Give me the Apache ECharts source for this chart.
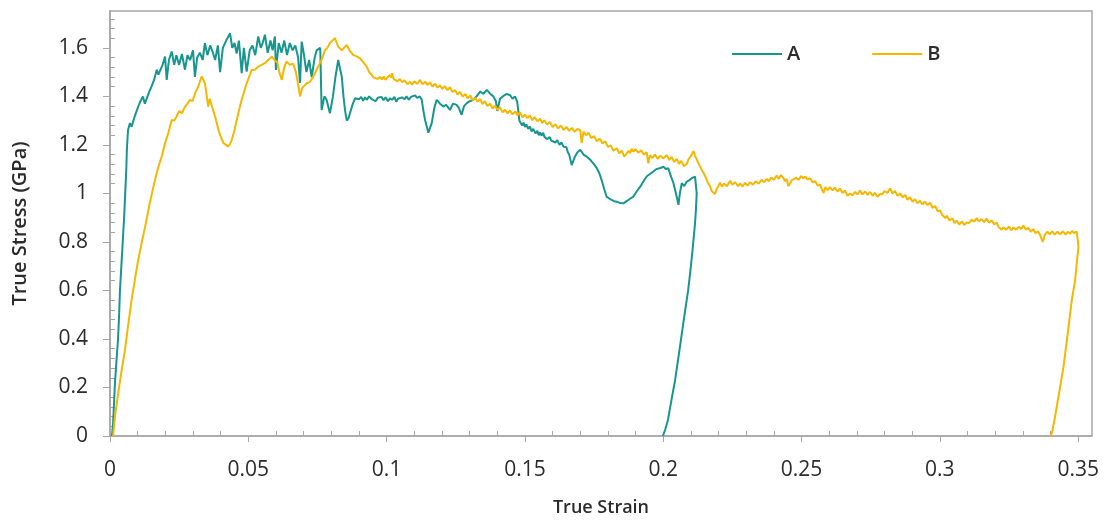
<!DOCTYPE html>
<html>
<head>
<meta charset="utf-8">
<script src="https://cdn.jsdelivr.net/npm/echarts@6/dist/echarts.min.js"></script>
<style>html,body{margin:0;padding:0;background:#fff}#c{width:1107px;height:524px}</style>
</head>
<body>
<div id="c"></div>
<script>
// ---- data ----
const seriesNames = ['A', 'B'];
const xTicks = [0, 0.05, 0.1, 0.15, 0.2, 0.25, 0.3, 0.35];
const yTicks = [0, 0.2, 0.4, 0.6, 0.8, 1, 1.2, 1.4, 1.6];

const aStrain = [0.0007,0.0011,0.0018,0.0024,0.0029,0.0033,0.0036,0.0041,0.0046,0.0051,0.0055,0.0059,0.0061,0.0065,0.0072,0.0078,0.0090,0.0102,0.0110,0.0119,0.0126,0.0133,0.0142,0.0150,0.0160,0.0169,0.0175,0.0180,0.0190,0.0199,0.0205,0.0213,0.0223,0.0232,0.0240,0.0250,0.0260,0.0271,0.0280,0.0290,0.0300,0.0307,0.0315,0.0325,0.0335,0.0343,0.0352,0.0362,0.0372,0.0380,0.0390,0.0398,0.0408,0.0420,0.0434,0.0442,0.0450,0.0458,0.0466,0.0476,0.0484,0.0494,0.0505,0.0515,0.0525,0.0536,0.0545,0.0552,0.0560,0.0570,0.0580,0.0588,0.0596,0.0600,0.0610,0.0620,0.0630,0.0640,0.0650,0.0660,0.0670,0.0680,0.0687,0.0693,0.0700,0.0710,0.0720,0.0729,0.0740,0.0747,0.0760,0.0765,0.0775,0.0783,0.0795,0.0806,0.0815,0.0825,0.0832,0.0838,0.0844,0.0850,0.0856,0.0862,0.0868,0.0878,
  0.0886,0.0893,0.0900,0.0908,0.0915,0.0922,0.0928,0.0937,0.0945,0.0952,0.0960,0.0968,0.0975,0.0982,0.0988,0.0996,0.1005,0.1012,0.1020,0.1028,0.1035,0.1041,0.1048,0.1056,0.1065,0.1072,0.1080,0.1088,0.1095,0.1103,0.1110,0.1120,0.1127,
  0.1133,0.1139,0.1151,0.1157,0.1163,0.1172,0.1181,0.1193,0.1205,0.1215,0.1229,0.1240,0.1253,0.1262,0.1271,0.1280,0.1290,0.1300,0.1313,0.1325,0.1338,0.1350,0.1362,0.1375,0.1386,0.1395,0.1400,0.1410,0.1420,0.1433,0.1446,0.1455,0.1464,0.1472,0.1476,0.1480,
  0.1484,0.1490,0.1495,0.1500,0.1505,0.1512,0.1518,0.1524,0.1530,0.1538,0.1545,0.1550,0.1555,0.1560,0.1566,0.1571,0.1575,0.1580,0.1584,0.1590,0.1595,0.1602,0.1610,0.1617,0.1625,0.1632,0.1640,0.1645,0.1650,0.1655,0.1660,
  0.1669,0.1680,0.1690,0.1700,0.1712,0.1723,0.1735,0.1750,0.1760,0.1770,0.1777,0.1786,0.1795,0.1810,0.1822,0.1832,0.1845,0.1856,0.1870,0.1880,0.1892,0.1905,0.1918,0.1928,0.1940,0.1952,0.1964,0.1975,0.1990,0.2001,0.2010,0.2018,0.2028,0.2037,0.2046,0.2055,0.2060,0.2067,0.2076,0.2085,0.2095,0.2103,0.2110,0.2115,0.2121,0.2118,0.2115,0.2106,0.2098,0.2090,0.2077,0.2064,0.2053,0.2043,0.2030,0.2017,0.2008,0.1999];
const aStress = [0,0.05,0.22,0.32,0.40,0.50,0.60,0.70,0.80,0.90,1.00,1.10,1.18,1.26,1.29,1.275,1.32,1.358,1.38,1.40,1.37,1.365,1.42,1.44,1.47,1.51,1.49,1.497,1.53,1.564,1.468,1.55,1.585,1.53,1.57,1.53,1.575,1.51,1.57,1.55,1.59,1.48,1.56,1.58,1.55,1.62,1.57,1.61,1.58,1.55,1.61,1.50,1.60,1.63,1.66,1.60,1.62,1.577,1.63,1.496,1.60,1.502,1.59,1.61,1.57,1.647,1.60,1.62,1.654,1.58,1.63,1.59,1.647,1.509,1.62,1.58,1.63,1.57,1.62,1.59,1.61,1.56,1.456,1.626,1.58,1.50,1.55,1.48,1.56,1.59,1.60,1.344,1.40,1.386,1.33,1.40,1.48,1.55,1.557,1.48,1.40,1.34,1.30,1.31,1.317,1.37,
  1.392,1.400,1.388,1.398,1.382,1.396,1.386,1.400,1.390,1.398,1.380,1.394,1.386,1.398,1.384,1.396,1.380,1.392,1.386,1.398,1.378,1.390,1.382,1.396,1.388,1.400,1.386,1.398,1.392,1.404,1.394,1.400,1.386,
  1.34,1.303,1.25,1.27,1.29,1.35,1.386,1.37,1.358,1.365,1.344,1.37,1.365,1.35,1.324,1.36,1.372,1.38,1.386,1.40,1.42,1.41,1.427,1.41,1.40,1.38,1.34,1.39,1.40,1.41,1.406,1.39,1.40,1.38,1.372,1.30,
  1.303,1.280,1.292,1.274,1.284,1.266,1.276,1.256,1.266,1.248,1.258,1.240,1.252,1.238,1.250,1.232,1.240,1.224,1.220,1.232,1.218,1.226,1.210,1.220,1.200,1.210,1.192,1.200,1.190,1.170,1.160,
  1.117,1.15,1.17,1.18,1.16,1.152,1.14,1.12,1.104,1.08,1.056,1.02,0.987,0.975,0.968,0.966,0.96,0.959,0.97,0.978,0.987,1.01,1.03,1.049,1.07,1.08,1.09,1.10,1.105,1.11,1.10,1.104,1.07,1.042,1.00,0.953,1.00,1.042,1.03,1.049,1.055,1.063,1.06,1.069,1.00,0.93,0.878,0.767,0.68,0.60,0.50,0.396,0.31,0.231,0.15,0.066,0.03,0];

const bStrain = [0.0011,0.0018,0.0030,0.0042,0.0054,0.0066,0.0078,0.0090,0.0102,0.0115,0.0127,0.0142,0.0157,0.0168,0.0175,0.0187,0.0199,0.0211,0.0223,0.0232,0.0241,0.0250,0.0260,0.0271,0.0280,0.0289,0.0298,0.0310,0.0319,0.0331,0.0337,0.0343,0.0350,0.0355,0.0361,0.0368,0.0380,0.0386,0.0392,0.0400,0.0410,0.0420,0.0428,0.0434,0.0440,0.0450,0.0458,0.0468,0.0476,0.0485,0.0494,0.0503,0.0512,0.0524,0.0536,0.0548,0.0560,0.0572,0.0585,0.0595,0.0605,0.0612,0.0621,0.0630,0.0638,0.0650,0.0662,0.0672,0.0680,0.0687,0.0695,0.0711,0.0723,0.0735,0.0747,0.0759,0.0768,0.0777,0.0786,0.0795,0.0804,0.0813,0.0820,0.0825,0.0838,0.0846,0.0856,0.0866,0.0879,0.0892,0.0904,0.0916,0.0928,0.0937,
  0.0946,0.0953,0.0960,0.0968,0.0976,0.0983,0.0990,0.0996,0.1002,0.1007,0.1012,0.1016,0.1020,0.1025,0.1030,0.1039,0.1048,0.1056,0.1065,0.1075,0.1085,0.1092,0.1100,0.1110,0.1121,0.1130,0.1140,0.1148,0.1157,0.1166,0.1175,0.1184,0.1193,0.1201,0.1210,0.1220,0.1229,0.1238,0.1248,0.1256,0.1265,0.1275,0.1285,0.1293,0.1302,0.1311,0.1320,0.1329,0.1338,0.1346,0.1355,0.1364,0.1374,0.1383,0.1392,0.1401,0.1410,0.1419,0.1428,0.1437,0.1446,0.1455,0.1465,0.1473,0.1482,0.1491,0.1500,0.1509,0.1518,0.1526,0.1535,0.1545,0.1555,0.1562,0.1570,0.1580,0.1590,0.1600,0.1610,0.1620,0.1630,0.1640,0.1650,0.1660,0.1670,0.1680,0.1690,0.1700,0.1705,0.1712,0.1721,0.1730,0.1740,0.1750,0.1760,0.1771,0.1780,0.1790,0.1800,0.1810,0.1820,0.1832,0.1841,0.1850,0.1859,0.1868,0.1875,0.1880,0.1886,0.1892,0.1900,0.1910,0.1920,0.1930,0.1940,0.1946,0.1952,0.1960,0.1970,0.1980,0.1990,0.2000,0.2013,0.2022,0.2030,0.2040,0.2049,0.2057,0.2065,0.2075,0.2085,0.2091,0.2097,0.2103,0.2109,0.2115,0.2121,0.2127,0.2133,0.2139,0.2145,0.2151,0.2157,0.2163,0.2169,0.2175,0.2181,0.2187,0.2193,0.2199,0.2205,0.2212,0.2220,0.2230,0.2242,0.2250,0.2260,0.2270,0.2278,0.2287,0.2295,0.2305,0.2314,0.2324,0.2335,0.2345,0.2355,0.2365,0.2374,0.2382,0.2390,0.2400,0.2410,0.2418,0.2425,0.2434,0.2440,0.2446,0.2452,0.2458,0.2464,0.2470,0.2480,0.2490,0.2498,0.2506,0.2514,0.2520,0.2531,0.2540,0.2550,0.2558,0.2567,0.2573,0.2580,0.2586,0.2595,0.2603,0.2612,0.2620,0.2630,0.2639,0.2648,0.2657,0.2666,0.2675,0.2684,0.2693,0.2702,0.2711,0.2720,0.2730,0.2739,0.2748,0.2757,0.2765,0.2775,0.2784,0.2792,0.2800,0.2810,0.2820,0.2829,0.2838,0.2847,0.2856,0.2866,0.2875,0.2883,0.2892,0.2901,0.2910,0.2919,0.2928,0.2937,0.2945,0.2955,0.2965,0.2974,0.2983,0.2992,0.3001,0.3008,0.3015,0.3020,0.3025,0.3035,0.3045,0.3053,0.3061,0.3070,0.3080,0.3088,0.3097,0.3106,0.3115,0.3124,0.3133,0.3141,0.3150,0.3160,0.3169,0.3178,0.3188,0.3196,0.3205,0.3212,0.3218,0.3224,0.3230,0.3240,0.3250,0.3258,0.3266,0.3275,0.3285,0.3294,0.3302,0.3311,0.3320,0.3329,0.3338,0.3346,0.3355,0.3362,0.3368,0.3372,
  0.3380,0.3389,0.3398,0.3406,0.3415,0.3425,0.3435,0.3445,0.3455,0.3463,0.3471,0.3478,0.3485,0.3495,0.3501,0.3496,0.3489,0.3477,0.3462,0.3447,0.3430,0.3415,0.3405,0.3398];
const bStress = [0,0.08,0.18,0.27,0.355,0.46,0.56,0.645,0.726,0.80,0.863,0.95,1.028,1.08,1.11,1.152,1.207,1.25,1.303,1.30,1.317,1.34,1.33,1.358,1.37,1.386,1.38,1.42,1.44,1.482,1.47,1.454,1.40,1.358,1.39,1.36,1.317,1.29,1.262,1.235,1.207,1.20,1.193,1.205,1.22,1.26,1.303,1.35,1.386,1.42,1.454,1.48,1.509,1.51,1.523,1.53,1.537,1.55,1.564,1.55,1.54,1.50,1.468,1.52,1.544,1.53,1.535,1.50,1.45,1.40,1.435,1.454,1.46,1.482,1.51,1.537,1.56,1.59,1.60,1.62,1.63,1.64,1.62,1.605,1.59,1.60,1.612,1.59,1.571,1.565,1.557,1.54,1.523,1.50,
  1.489,1.478,1.485,1.472,1.480,1.470,1.482,1.468,1.478,1.470,1.488,1.478,1.495,1.472,1.480,1.462,1.472,1.458,1.466,1.450,1.460,1.448,1.462,1.452,1.468,1.450,1.460,1.447,1.458,1.440,1.452,1.436,1.446,1.430,1.442,1.426,1.438,1.418,1.426,1.408,1.418,1.400,1.410,1.392,1.404,1.384,1.394,1.378,1.390,1.368,1.380,1.360,1.370,1.350,1.362,1.344,1.356,1.334,1.345,1.330,1.342,1.326,1.338,1.322,1.335,1.314,1.325,1.310,1.322,1.302,1.315,1.298,1.308,1.290,1.302,1.284,1.295,1.274,1.285,1.268,1.280,1.262,1.274,1.258,1.270,1.254,1.266,1.260,1.207,1.255,1.240,1.250,1.228,1.236,1.215,1.226,1.206,1.215,1.192,1.198,1.176,1.186,1.165,1.176,1.152,1.164,1.176,1.166,1.184,1.172,1.182,1.168,1.178,1.160,1.170,1.124,1.158,1.146,1.160,1.142,1.156,1.144,1.158,1.138,1.150,1.130,1.142,1.122,1.134,1.112,1.122,1.140,1.132,1.160,1.175,1.155,1.140,1.125,1.118,1.098,1.086,1.072,1.065,1.040,1.030,1.010,1.008,0.998,1.018,1.030,1.044,1.028,1.040,1.030,1.052,1.036,1.046,1.030,1.040,1.028,1.044,1.032,1.046,1.036,1.050,1.040,1.056,1.046,1.060,1.050,1.066,1.056,1.074,1.060,1.076,1.064,1.050,1.060,1.030,1.040,1.054,1.046,1.064,1.056,1.072,1.062,1.070,1.058,1.062,1.046,1.050,1.032,1.036,1.018,1.002,1.026,1.014,1.026,1.012,1.024,1.008,1.020,1.002,1.012,0.990,1.000,0.992,1.006,0.996,1.012,0.996,1.008,0.994,1.006,0.990,1.002,0.986,0.998,0.996,1.010,1.002,1.020,1.000,1.010,0.990,1.000,0.984,0.994,0.974,0.984,0.966,0.976,0.960,0.970,0.954,0.966,0.952,0.962,0.940,0.948,0.926,0.930,0.912,0.918,0.898,0.908,0.888,0.898,0.878,0.888,0.872,0.884,0.870,0.880,0.878,0.892,0.884,0.898,0.884,0.894,0.882,0.896,0.880,0.888,0.872,0.880,0.862,0.870,0.850,0.860,0.850,0.864,0.848,0.860,0.850,0.862,0.854,0.868,0.850,0.858,0.842,0.852,0.836,0.844,0.830,0.832,0.800,
  0.830,0.842,0.832,0.844,0.830,0.842,0.832,0.844,0.830,0.842,0.834,0.846,0.836,0.843,0.78,0.726,0.643,0.56,0.42,0.286,0.17,0.07,0.012,0];

// ---- build ----
const zip = (xs, ys) => xs.map((x, i) => [x, ys[i]]);
const xMinor = []; for (let i = 1; i <= 35; i++) if (i % 5) xMinor.push(i / 100);
const yMinor = []; for (let i = 1; i <= 43; i++) if (i % 5) yMinor.push(+(i * 0.04).toFixed(2));

const font = '"Open Sans", "Noto Sans", sans-serif';
const textColor = '#2b2b2b';
const axisGray = '#a6a6a6';
const X_MAX = 0.355, Y_MAX = 1.752;
const colA = '#16968f', colB = '#f5b700';

const chart = echarts.init(document.getElementById('c'));
chart.setOption({
  animation: false,
  backgroundColor: '#fff',
  grid: { left: 110, right: 15, top: 11, bottom: 88, show: true, borderColor: axisGray, borderWidth: 1.5, backgroundColor: 'transparent' },
  legend: {
    left: 732, top: 44, padding: 0, itemWidth: 50, itemHeight: 20, itemGap: 72,
    icon: 'path://M0,0H50V2H0Z',
    textStyle: { fontSize: 20, color: textColor, fontFamily: font, fontWeight: 600 },
    data: [{ name: seriesNames[0], itemStyle: { color: colA } }, { name: seriesNames[1], itemStyle: { color: colB } }]
  },
  xAxis: [{
    type: 'value', min: 0, max: X_MAX,
    name: 'True Strain', nameLocation: 'middle', nameGap: 63,
    nameTextStyle: { fontSize: 18, color: textColor, fontFamily: font, fontWeight: 600 },
    axisLine: { lineStyle: { color: axisGray, width: 1.5 } },
    axisTick: { show: true, inside: false, length: 6, lineStyle: { color: axisGray }, customValues: xTicks },
    axisLabel: { customValues: xTicks, margin: 24, fontSize: 21, color: textColor, fontFamily: font, formatter: v => String(+v.toFixed(2)) },
    splitLine: { show: false }
  }, {
    type: 'value', min: 0, max: X_MAX, position: 'bottom',
    axisLine: { show: false },
    axisTick: { show: true, inside: true, length: 5, lineStyle: { color: axisGray }, customValues: xMinor },
    axisLabel: { show: false }, splitLine: { show: false }
  }],
  yAxis: [{
    type: 'value', min: 0, max: Y_MAX,
    name: 'True Stress (GPa)', nameLocation: 'middle', nameGap: 80,
    nameTextStyle: { fontSize: 20, color: textColor, fontFamily: font, fontWeight: 600 },
    axisLine: { show: true, lineStyle: { color: axisGray, width: 1.5 } },
    axisTick: { show: true, inside: false, length: 7, lineStyle: { color: axisGray }, customValues: yTicks },
    axisLabel: { customValues: yTicks, margin: 22, fontSize: 21, color: textColor, fontFamily: font, formatter: v => String(+v.toFixed(1)) },
    splitLine: { show: false }
  }, {
    type: 'value', min: 0, max: Y_MAX, position: 'left',
    axisLine: { show: false },
    axisTick: { show: true, inside: true, length: 5, lineStyle: { color: axisGray }, customValues: yMinor },
    axisLabel: { show: false }, splitLine: { show: false }
  }],
  series: [{
    name: seriesNames[0], type: 'line', symbol: 'none', xAxisIndex: 0, yAxisIndex: 0,
    lineStyle: { color: colA, width: 2 }, itemStyle: { color: colA },
    data: zip(aStrain, aStress)
  }, {
    name: seriesNames[1], type: 'line', symbol: 'none', xAxisIndex: 0, yAxisIndex: 0,
    lineStyle: { color: colB, width: 2 }, itemStyle: { color: colB },
    data: zip(bStrain, bStress)
  }]
});
</script>
</body>
</html>
